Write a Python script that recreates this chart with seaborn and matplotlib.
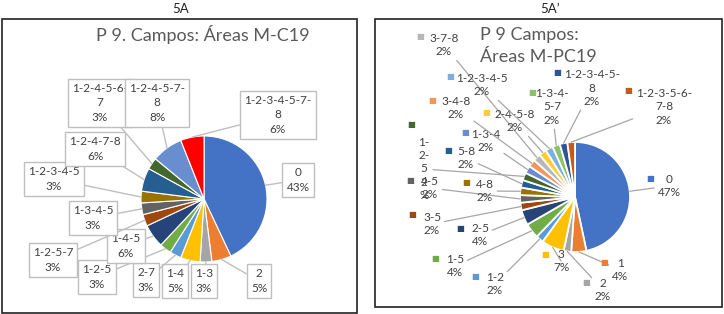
# P 9 Campos - pie charts 5A / 5A'

import numpy as np
import matplotlib.pyplot as plt
from matplotlib.patches import Rectangle
import seaborn as sns

sns.set_style('white')
plt.rcParams['font.family'] = ['Lato', 'DejaVu Sans']

## 5A  (M-C19), percentages as shown
cats_a = ['0', '2', '1-3', '1-4', '2-7', '1-2-5', '1-4-5', '1-2-5-7', '1-3-4-5',
          '1-2-3-4-5', '1-2-4-7-8', '1-2-4-5-6-7', '1-2-4-5-7-8', '1-2-3-4-5-7-8']
pct_a = [43, 5, 3, 5, 3, 3, 6, 3, 3, 3, 6, 3, 8, 6]

## 5A' (M-PC19), counts giving the shown percentages (n = 45)
cats_b = ['0', '1', '2', '3', '1-2', '1-5', '2-5', '3-5', '4-5', '4-8', '5-8', '1-2-5',
          '1-3-4', '3-4-8', '3-7-8', '2-4-5-8', '1-2-3-4-5', '1-3-4-5-7', '1-2-3-4-5-8',
          '1-2-3-5-6-7-8']
n_b = [21, 2, 1, 3, 1, 2, 2, 1, 1, 1, 1, 1, 1, 1, 1, 1, 1, 1, 1, 1]

# Excel office palette
office = ['#4472C4', '#ED7D31', '#A5A5A5', '#FFC000', '#5B9BD5', '#70AD47',
          '#264478', '#9E480E', '#636363', '#997300', '#255E91', '#43682B',
          '#698ED0', '#F1975A', '#B7B7B7', '#FFCD33', '#7CAFDD', '#8CC168',
          '#2F5597', '#C55A11']
pal_a = sns.color_palette(office[:13] + ['#FF0000'])
pal_b = sns.color_palette(office[:20])

# label layout (pixel coords, y down)
wrap_a = {'1-2-4-5-6-7': '1-2-4-5-6-\n7', '1-2-4-5-7-8': '1-2-4-5-7-\n8',
          '1-2-3-4-5-7-8': '1-2-3-4-5-7-\n8'}
pos_a = [(298, 180), (259, 281), (204, 281), (175, 281), (146, 280), (97, 277),
         (126, 246), (53, 260), (93, 218), (54, 179), (95, 149), (100, 103),
         (157, 103), (278, 115)]

wrap_b = {'1-3-4-5-7': '1-3-4-\n5-7', '1-2-3-4-5-8': '1-2-3-4-5-\n8',
          '1-2-3-5-6-7-8': '1-2-3-5-6-\n7-8', '1-2-5': '1-\n2-\n5'}
pos_b = [(669, 186), (620, 270), (603, 290), (561, 261), (495, 284), (455, 266),
         (480, 235), (432, 224), (430, 188), (485, 191), (466, 158), (424, 169),
         (486, 141), (456, 108), (444, 45), (515, 121), (482, 85), (552, 107),
         (592, 88), (664, 107)]
mark_b = [(650, 179), (604, 262), (586, 283), (545, 254), (475, 277), (435, 258),
          (460, 228), (412, 215), (410, 180), (466, 183), (448, 151), (411, 124),
          (465, 133), (432, 101), (420, 37), (486, 113), (450, 77), (532, 92),
          (557, 72), (628, 91)]

W, H = 724, 314
fig = plt.figure(figsize=(W / 100, H / 100), dpi=100)
ax = fig.add_axes([0, 0, 1, 1])

txt = '#404040'
line = '#BFBFBF'


def draw_pie(vals, cols, center, r, lw):
    # y axis is inverted -> start at -90 going counterclockwise = top, clockwise on screen
    wedges, _ = ax.pie(vals, colors=cols, center=center, radius=r, startangle=-90,
                       counterclock=True,
                       wedgeprops=dict(edgecolor='white', linewidth=lw))
    pts = []
    for w in wedges:
        mid = np.deg2rad((w.theta1 + w.theta2) / 2)
        pts.append((center[0] + r * np.cos(mid), center[1] + r * np.sin(mid)))
    return pts


# ---- 5A
cA = (204, 199)
pts_a = draw_pie(pct_a, pal_a, cA, 63, 0.8)
for cat, p, xy, pos in zip(cats_a, pct_a, pts_a, pos_a):
    label = wrap_a.get(cat, cat) + '\n%d%%' % p
    ax.annotate(label, xy=xy, xytext=pos, ha='center', va='center', fontsize=8.5,
                color=txt, linespacing=1.35, multialignment='center',
                bbox=dict(boxstyle='square,pad=0.35', fc='white', ec=line, lw=1),
                arrowprops=dict(arrowstyle='-', color=line, lw=1, shrinkA=0, shrinkB=0))

# ---- 5A'
cB = (575, 197)
pts_b = draw_pie(n_b, pal_b, cB, 55, 1.3)
tot = sum(n_b)
for cat, n, xy, pos, mk, col in zip(cats_b, n_b, pts_b, pos_b, mark_b, pal_b):
    pct = '%d%%' % round(100 * n / tot)
    if cat == '1-2-5':
        pct = pct[:-1] + '\n%'
    label = wrap_b.get(cat, cat) + '\n' + pct
    ax.annotate(label, xy=xy, xytext=pos, ha='center', va='center', fontsize=8.5,
                color=txt, linespacing=1.25, multialignment='center',
                arrowprops=dict(arrowstyle='-', color='#A6A6A6', lw=0.9, shrinkA=0, shrinkB=0))
    ax.text(mk[0], mk[1], '\u25a0', color=col, fontsize=6, ha='center', va='center',
            family=['DejaVu Sans'])

# frames and titles
ax.add_patch(Rectangle((2, 19), 355, 294, fill=False, ec='#222222', lw=1.2))
ax.add_patch(Rectangle((375, 19), 347, 288, fill=False, ec='#222222', lw=1.2))
ax.text(181, 9, '5A', ha='center', va='center', fontsize=9.5, color='#222222')
ax.text(550, 9, '5A\u2019', ha='center', va='center', fontsize=9.5, color='#222222')
ax.text(203, 35, 'P 9. Campos: Áreas M-C19', ha='center', va='center', fontsize=13,
        color='#595959')
ax.text(480, 46, 'P 9 Campos:\nÁreas M-PC19', ha='left', va='center', fontsize=13,
        color='#595959', linespacing=1.4)

ax.set_xlim(0, W)
ax.set_ylim(H, 0)
ax.set_aspect('equal')
ax.axis('off')

plt.savefig('out.png', dpi=100)
